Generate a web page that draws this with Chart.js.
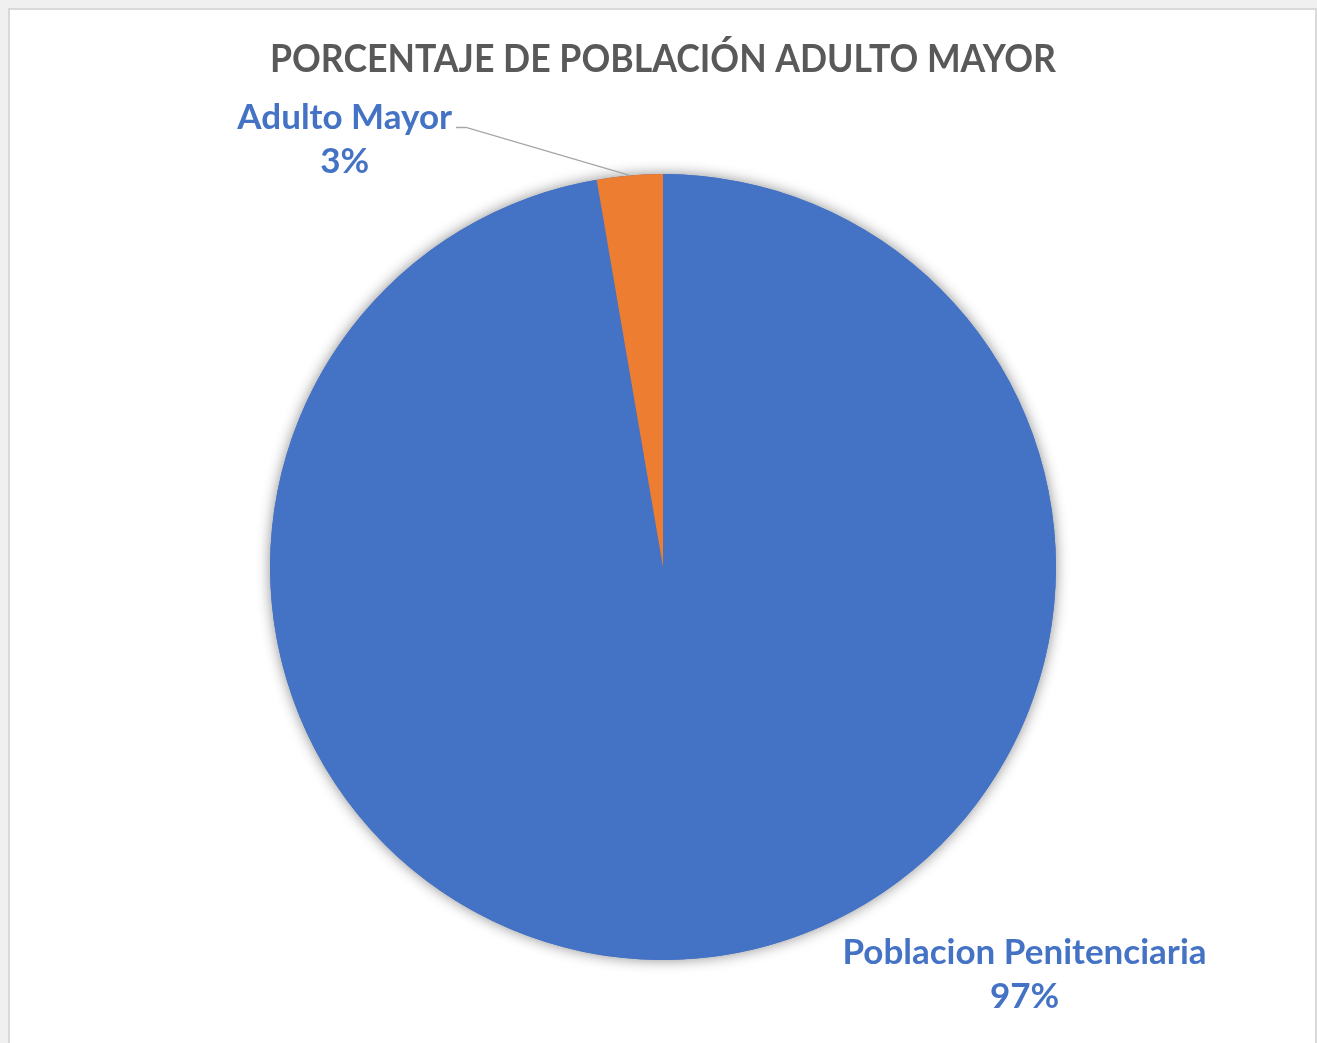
<!DOCTYPE html>
<html>
<head>
<meta charset="utf-8">
<script src="https://cdn.jsdelivr.net/npm/chart.js@4/dist/chart.umd.min.js"></script>
<style>
  html, body { margin: 0; padding: 0; background: #f0f0f0; overflow: hidden; }
  #frame {
    position: absolute; left: 8px; top: 8px; width: 1305px; height: 1100px;
    background: #fff; border: 2px solid #d9d9d9;
  }
  #chart { position: absolute; left: 0; top: 0; }
</style>
</head>
<body>
<div id="frame"></div>
<canvas id="chart" width="1317" height="1043"></canvas>
<script>
const TITLE = "PORCENTAJE DE POBLACIÓN ADULTO MAYOR";
const categories = ["Poblacion Penitenciaria", "Adulto Mayor"];
const values = [97.3, 2.7];
const sliceColors = ["#4472c4", "#ed7d31"];

// where each data label sits, as a fraction of the radius from the centre
const LABEL_SPOTS = [
  { dx: 0.92, dy: 1.037, leader: false },
  { dx: -0.81, dy: -1.088, leader: true }
];

const LABEL_FONT = "bold 35px Lato";
const LABEL_COLOR = "#4472c4";

const pieShadow = {
  id: "pieShadow",
  beforeDatasetsDraw(chart) {
    const arc = chart.getDatasetMeta(0).data[0];
    if (!arc) return;
    const ctx = chart.ctx;
    ctx.save();
    ctx.shadowColor = "rgba(0,0,0,0.45)";
    ctx.shadowBlur = 14;
    ctx.fillStyle = "#4472c4";
    ctx.beginPath();
    ctx.arc(arc.x, arc.y, arc.outerRadius, 0, Math.PI * 2);
    ctx.fill();
    ctx.restore();
  }
};

const sliceLabels = {
  id: "sliceLabels",
  afterDatasetsDraw(chart) {
    const ctx = chart.ctx;
    const meta = chart.getDatasetMeta(0);
    const total = values.reduce((a, b) => a + b, 0);

    meta.data.forEach((arc, i) => {
      const spot = LABEL_SPOTS[i];
      const r = arc.outerRadius;
      const x = arc.x + spot.dx * r;
      const y = arc.y + spot.dy * r;
      const pct = Math.round(values[i] / total * 100) + "%";

      ctx.save();
      ctx.font = LABEL_FONT;
      ctx.fillStyle = LABEL_COLOR;
      ctx.textAlign = "center";
      ctx.textBaseline = "middle";
      ctx.fillText(categories[i], x, y - 22);
      ctx.fillText(pct, x, y + 22);

      if (spot.leader) {
        const w = ctx.measureText(categories[i]).width;
        const mid = (arc.startAngle + arc.endAngle) / 2;
        const sx = x + w / 2 + 4;
        const sy = y - 12;
        ctx.strokeStyle = "#a6a6a6";
        ctx.lineWidth = 1.3;
        ctx.beginPath();
        ctx.moveTo(sx, sy);
        ctx.lineTo(sx + 10, sy);
        ctx.lineTo(arc.x + Math.cos(mid) * r, arc.y + Math.sin(mid) * r);
        ctx.stroke();
      }
      ctx.restore();
    });
  }
};

new Chart(document.getElementById("chart"), {
  type: "pie",
  data: {
    labels: categories,
    datasets: [{
      data: values,
      backgroundColor: sliceColors,
      borderWidth: 0,
      hoverOffset: 0
    }]
  },
  options: {
    responsive: false,
    animation: false,
    events: [],
    layout: { padding: { left: 270, right: 261, top: 0, bottom: 83 } },
    plugins: {
      legend: { display: false },
      tooltip: { enabled: false },
      title: {
        display: true,
        text: TITLE,
        color: "#595959",
        font: { family: "Lato", size: 38.4, weight: "bold", lineHeight: 1.2 },
        padding: { top: 37, bottom: 91 }
      }
    }
  },
  plugins: [pieShadow, sliceLabels]
});
</script>
</body>
</html>
